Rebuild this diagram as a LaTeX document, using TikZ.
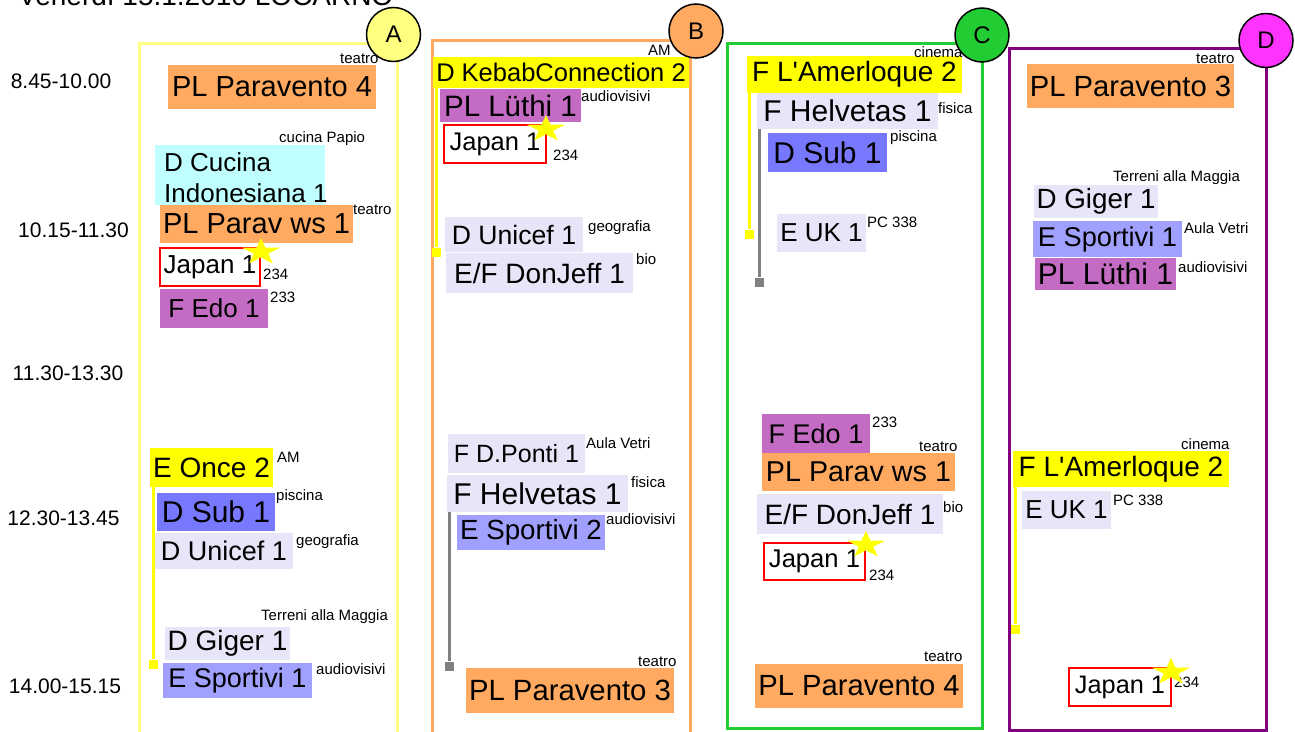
\documentclass[tikz,border=0pt]{standalone}
\usepackage{fontspec}
\setmainfont{Liberation Sans}[Ligatures=TeXOff]
\definecolor{cPL}{RGB}{255,170,96}
\definecolor{cCyan}{RGB}{191,255,255}
\definecolor{cPurp}{RGB}{196,108,196}
\definecolor{cLav}{RGB}{230,230,248}
\definecolor{cBlue}{RGB}{120,120,255}
\definecolor{cLBlue}{RGB}{160,160,255}
\definecolor{cYel}{RGB}{255,255,0}
\definecolor{cPaleY}{RGB}{255,255,128}
\definecolor{cGreen}{RGB}{34,204,51}
\definecolor{cViolet}{RGB}{128,0,128}
\definecolor{cMag}{RGB}{255,51,255}
\definecolor{cGray}{RGB}{128,128,128}
\newcommand\fs[1]{\fontsize{#1}{#1}\selectfont}
\tikzset{
 bx/.style={inner sep=0pt, outer sep=0pt},
 jap/.style={fill=white, draw=red, line width=1.5pt},
 lbl/.style={inner sep=0pt, anchor=west, font=\fs{15}},
 tlbl/.style={inner sep=0pt, font=\fs{21}},
 circ/.style={circle, draw=black, line width=1.5pt, minimum size=54pt, inner sep=0pt, font=\fs{24}},
 yconn/.style={draw=cYel, line width=3pt},
 gconn/.style={draw=cGray, line width=3pt},
 yend/.style={fill=cYel, minimum size=9pt, inner sep=0pt},
 gend/.style={fill=cGray, minimum size=9pt, inner sep=0pt},
 frame/.style={line width=3pt},
}
\newcommand\bx[8]{\node[bx,#6,font=\fs{#7},minimum width={#4-#2},minimum height={#5-#3}] (#1) at ({(#2+#4)/2},{(#3+#5)/2}) {#8};}
\newcommand\lb[4]{\node[lbl] (#1) at (#2,#3) {#4};}
\newcommand\ystar[2]{\fill[cYel] ({#1},{#2-14}) \foreach \a/\r in {126/0.382,162/1,198/0.382,234/1,270/0.382,306/1,342/0.382,18/1,54/0.382} { -- ({#1+20*\r*cos(\a)},{#2-14*\r*sin(\a)}) } -- cycle;}
\begin{document}
\begin{tikzpicture}[x=1pt,y=-1pt]
\clip (0,0) rectangle (1295,731);
\fill[white] (0,0) rectangle (1295,731);
% frames
\draw[frame,draw=cPaleY] (139,43) rectangle (397,760);
\draw[frame,draw=cPL] (432,40) rectangle (690,760);
\draw[frame,draw=cGreen] (727,43) rectangle (982,728);
\draw[frame,draw=cViolet] (1009,48) rectangle (1266,730);
% title and times
\node[anchor=base west, inner sep=0pt, font=\fs{28}] (title) at (18,5) {Venerdì 15.1.2010 LOCARNO};
\node[tlbl] (t1) at (61,81.5) {8.45-10.00};
\node[tlbl] (t2) at (73.5,230) {10.15-11.30};
\node[tlbl] (t3) at (68,373.5) {11.30-13.30};
\node[tlbl] (t4) at (63.5,518.5) {12.30-13.45};
\node[tlbl] (t5) at (65,686.5) {14.00-15.15};
% column A
\bx{aPL}{168}{65}{376}{109}{fill=cPL}{29}{PL Paravento 4}
\lb{aPLl}{340}{59}{teatro}
\node[bx,fill=cCyan,minimum width=170pt,minimum height=60pt] (aCucBg) at (240,175) {};
\node[inner sep=0pt,anchor=west,align=left,font=\fontsize{26}{31}\selectfont] (aCuc) at (164,178) {D Cucina\\Indonesiana 1};
\lb{aCucl}{279}{139}{cucina Papio}
\bx{aPar}{160}{205}{353}{243}{fill=cPL}{29}{PL Parav ws 1}
\lb{aParl}{353}{210}{teatro}
\bx{aJap}{160}{248}{260}{286}{jap}{26}{Japan 1}
\lb{aJapl}{263}{274}{234}
\bx{aEdo}{160}{289}{268}{328}{fill=cPurp}{26}{F Edo 1}
\lb{aEdol}{270}{297}{233}
\bx{aOnce}{150}{448}{273}{487}{fill=cYel}{28}{E Once 2}
\lb{aOncel}{277}{457}{AM}
\bx{aSub}{157}{493}{275}{531}{fill=cBlue}{30}{D Sub 1}
\lb{aSubl}{276}{497}{piscina}
\bx{aUni}{155}{533}{293}{569}{fill=cLav}{27}{D Unicef 1}
\lb{aUnil}{296}{542}{geografia}
\bx{aGig}{165}{627}{290}{660}{fill=cLav}{28}{D Giger 1}
\lb{aGigl}{261}{617}{Terreni alla Maggia}
\bx{aSpo}{163}{663}{312}{698}{fill=cLBlue}{27}{E Sportivi 1}
\lb{aSpol}{316}{669}{audiovisivi}
% column B
\bx{bKeb}{433}{57}{689}{88}{fill=cYel}{25.5}{D KebabConnection 2}
\lb{bKebl}{648}{50}{AM}
\bx{bLut}{440}{89}{581}{122}{fill=cPurp}{29.5}{PL Lüthi 1}
\lb{bLutl}{581}{96}{audiovisivi}
\bx{bJap}{444}{125}{546}{163}{jap}{25.5}{Japan 1}
\lb{bJapl}{553}{155}{234}
\bx{bUni}{445}{217}{583}{252}{fill=cLav}{26.6}{D Unicef 1}
\lb{bUnil}{588}{228}{geografia}
\bx{bDon}{446}{253}{633}{293}{fill=cLav}{28}{E/F DonJeff 1}
\lb{bDonl}{636}{259}{bio}
\bx{bPon}{448}{434}{585}{473}{fill=cLav}{25}{F D.Ponti 1}
\lb{bPonl}{586}{443}{Aula Vetri}
\bx{bHel}{447}{475}{628}{512}{fill=cLav}{30}{F Helvetas 1}
\lb{bHell}{631}{482}{fisica}
\bx{bSpo}{457}{515}{605}{550}{fill=cLBlue}{27.7}{E Sportivi 2}
\lb{bSpol}{606}{519}{audiovisivi}
\bx{bPL}{466}{668}{674}{713}{fill=cPL}{29.3}{PL Paravento 3}
\lb{bPLl}{638}{662}{teatro}
% column C
\bx{cAme}{747}{56}{962}{93}{fill=cYel}{28}{F L'Amerloque 2}
\lb{cAmel}{914}{52}{cinema}
\bx{cHel}{757}{93}{938}{129}{fill=cLav}{30}{F Helvetas 1}
\lb{cHell}{938}{108}{fisica}
\bx{cSub}{768}{133}{887}{172}{fill=cBlue}{30}{D Sub 1}
\lb{cSubl}{890}{138}{piscina}
\bx{cUK}{777}{214}{866}{252}{fill=cLav}{26}{E UK 1}
\lb{cUKl}{867}{222}{PC 338}
\bx{cEdo}{762}{414}{870}{453}{fill=cPurp}{27}{F Edo 1}
\lb{cEdol}{872}{422}{233}
\bx{cPar}{762}{453}{955}{491}{fill=cPL}{28.7}{PL Parav ws 1}
\lb{cParl}{919}{447}{teatro}
\bx{cDon}{757}{494}{943}{534}{fill=cLav}{28}{E/F DonJeff 1}
\lb{cDonl}{943}{507}{bio}
\bx{cJap}{764}{543}{865}{580}{jap}{25.6}{Japan 1}
\lb{cJapl}{869}{575}{234}
\bx{cPL}{755}{664}{963}{708}{fill=cPL}{29.2}{PL Paravento 4}
\lb{cPLl}{924}{657}{teatro}
% column D
\bx{dPL}{1027}{64}{1234}{108}{fill=cPL}{29.2}{PL Paravento 3}
\lb{dPLl}{1196}{59}{teatro}
\bx{dGig}{1034}{185}{1158}{218}{fill=cLav}{27.8}{D Giger 1}
\lb{dGigl}{1113}{178}{Terreni alla Maggia}
\bx{dSpo}{1033}{221}{1182}{257}{fill=cLBlue}{27.2}{E Sportivi 1}
\lb{dSpol}{1184}{228}{Aula Vetri}
\bx{dLut}{1035}{258}{1176}{290}{fill=cPurp}{30}{PL Lüthi 1}
\lb{dLutl}{1178}{267}{audiovisivi}
\bx{dAme}{1013}{451}{1229}{487}{fill=cYel}{28}{F L'Amerloque 2}
\lb{dAmel}{1181}{444}{cinema}
\bx{dUK}{1022}{491}{1111}{529}{fill=cLav}{26}{E UK 1}
\lb{dUKl}{1113}{500}{PC 338}
\bx{dJap}{1069}{668}{1171}{706}{jap}{25.3}{Japan 1}
\lb{dJapl}{1174}{682}{234}
% connectors
\node[yend] (aYe) at (153,664) {};
\draw[yconn] (aOnce.south west -| aYe) -- (aYe);
\node[yend] (bYe) at (436,252) {};
\draw[yconn] (bKeb.south west -| bYe) -- (bYe);
\node[gend] (bGe) at (449,666) {};
\draw[gconn] (bHel.south west -| bGe) -- (bGe);
\node[yend] (cYe) at (749,234) {};
\draw[yconn] (cAme.south west -| cYe) -- (cYe);
\node[gend] (cGe) at (759,282) {};
\draw[gconn] (cHel.south west -| cGe) -- (cGe);
\node[yend] (dYe) at (1015,629) {};
\draw[yconn] (dAme.south west -| dYe) -- (dYe);
% stars
\ystar{261}{252}
\ystar{546}{129}
\ystar{866}{545}
\ystar{1171}{672}
% circles
\node[circ,fill=cPaleY] (cirA) at (393.5,34.5) {A};
\node[circ,fill=cPL] (cirB) at (696,31) {B};
\node[circ,fill=cGreen] (cirC) at (982,35) {C};
\node[circ,fill=cMag] (cirD) at (1266,40.5) {D};
\end{tikzpicture}
\end{document}
